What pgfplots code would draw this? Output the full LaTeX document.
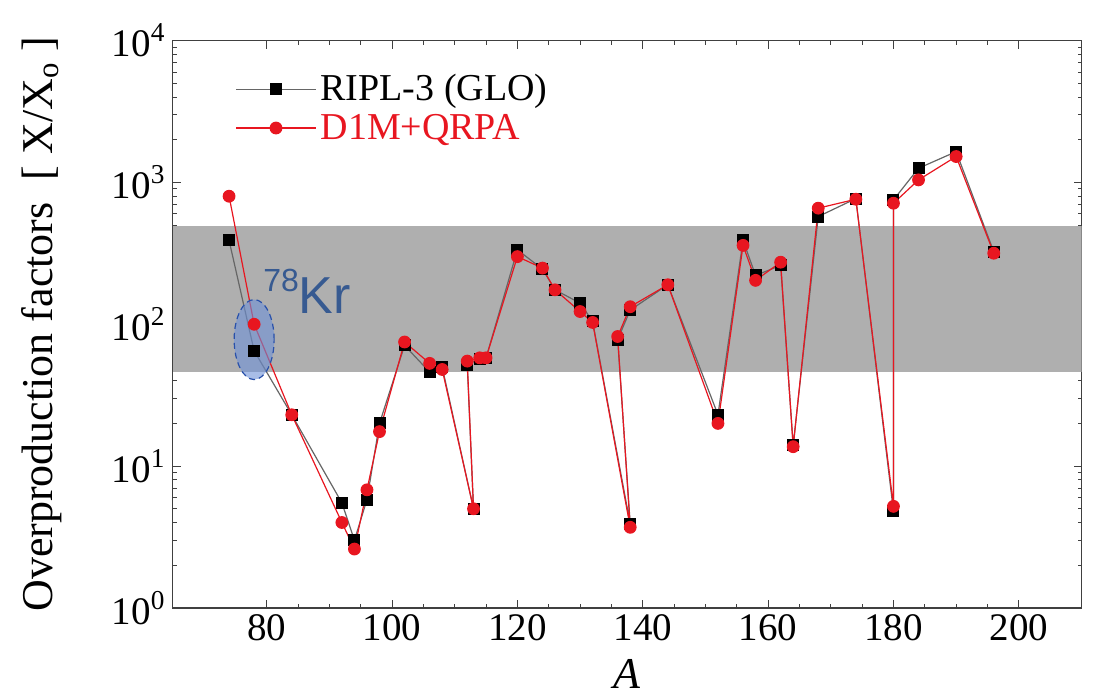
\documentclass[border=0pt]{standalone}
\usepackage{fontspec}
\setmainfont{Liberation Serif}
\setsansfont{Liberation Sans}
\usepackage{pgfplots}
\pgfplotsset{compat=1.18}
\definecolor{krblue}{RGB}{55,90,145}
\definecolor{ellfill}{RGB}{110,145,215}
\definecolor{elldraw}{RGB}{40,80,170}
\definecolor{myred}{RGB}{232,22,32}
\definecolor{bandgray}{RGB}{175,175,175}

\pgfplotstableread{
A ripl d1m
74 390 800
78 65 100
84 23 23
92 5.5 4.0
94 3.0 2.6
96 5.8 6.8
98 20 17.5
102 71 75
106 46 53
108 50 48
113 5.0 5.0
112 52 55
114 57 58
115 58 58
120 335 300
124 245 249
126 175 175
130 141 123
132 105 103
138 3.9 3.7
136 78 82
138 126 133
144 190 190
152 23 20
156 391 360
158 221 204
162 260 274
164 14 13.7
168 575 659
174 770 762
180 4.8 5.2
180 754 714
184 1260 1043
190 1650 1524
196 325 317
}\datatable

\begin{document}
\begin{tikzpicture}
\begin{axis}[
  scale only axis, width=454.5pt, height=283.65pt,
  xmin=65, xmax=210, ymode=log, ymin=1, ymax=10000,
  axis line style={black!75, line width=0.7pt},
  xtick={80,100,...,200},
  xticklabels={80,100,120,140,160,180,200},
  minor x tick num=3,
  ytick={1,10,100,1000,10000},
  minor ytick={2,3,4,5,6,7,8,9,20,30,40,50,60,70,80,90,200,300,400,500,600,700,800,900,2000,3000,4000,5000,6000,7000,8000,9000},
  yticklabels={10\textsuperscript{0},10\textsuperscript{1},10\textsuperscript{2},10\textsuperscript{3},10\textsuperscript{4}},
  tick label style={font=\fontsize{19.5}{22}\selectfont},
  major tick length=4pt, minor tick length=2pt,
  tick style={black!75, line width=0.5pt},
  xlabel={\textit{A}},
  xlabel style={font=\fontsize{22}{24}\selectfont, at={(axis description cs:0.5,-0.117)}, anchor=center},
  ylabel={Overproduction factors\ \ [ X/X\textsubscript{o} ]},
  ylabel style={font=\fontsize{22}{24}\selectfont, at={(axis description cs:-0.144,0.5)}, anchor=center, rotate=0},
  legend cell align=left,
  legend style={draw=none, fill=none, at={(axis description cs:0.062,0.955)}, anchor=north west,
    font=\fontsize{19}{21}\selectfont, row sep=1pt, nodes={inner sep=2pt}},
  legend image code/.code={\draw[mark repeat=2,mark phase=2,#1] plot coordinates {(0pt,0pt) (20pt,0pt) (40pt,0pt)};},
  clip=true,
]
\addplot[draw=none, fill=bandgray, forget plot] coordinates {(65,46.4) (210,46.4) (210,490) (65,490)} -- cycle;
\addplot[black!60, line width=0.6pt, mark=square*, mark size=2.7pt, mark options={black, solid}] table[x=A, y=ripl] {\datatable};
\addlegendentry{RIPL-3 (GLO)}
\addplot[myred, line width=0.6pt, mark=*, mark size=2.9pt, mark options={myred, solid}] table[x=A, y=d1m] {\datatable};
\addlegendentry{\textcolor{myred}{D1M+QRPA}}
\draw[elldraw, densely dashed, line width=0.6pt, fill=ellfill, fill opacity=0.6] (axis cs:78,78) ellipse [x radius=10pt, y radius=20pt];
\node[anchor=base west, text=krblue, font=\sffamily\fontsize{26}{28}\selectfont, inner sep=0pt] at (axis cs:79.4,120) {{\fontsize{16}{18}\selectfont\raisebox{11pt}{78}}Kr};
\end{axis}
\pgfresetboundingbox
\path ([shift={(-86.35pt,-45.5pt)}]current axis.south west) rectangle ([shift={(8.75pt,20.35pt)}]current axis.north east);
\end{tikzpicture}
\end{document}
